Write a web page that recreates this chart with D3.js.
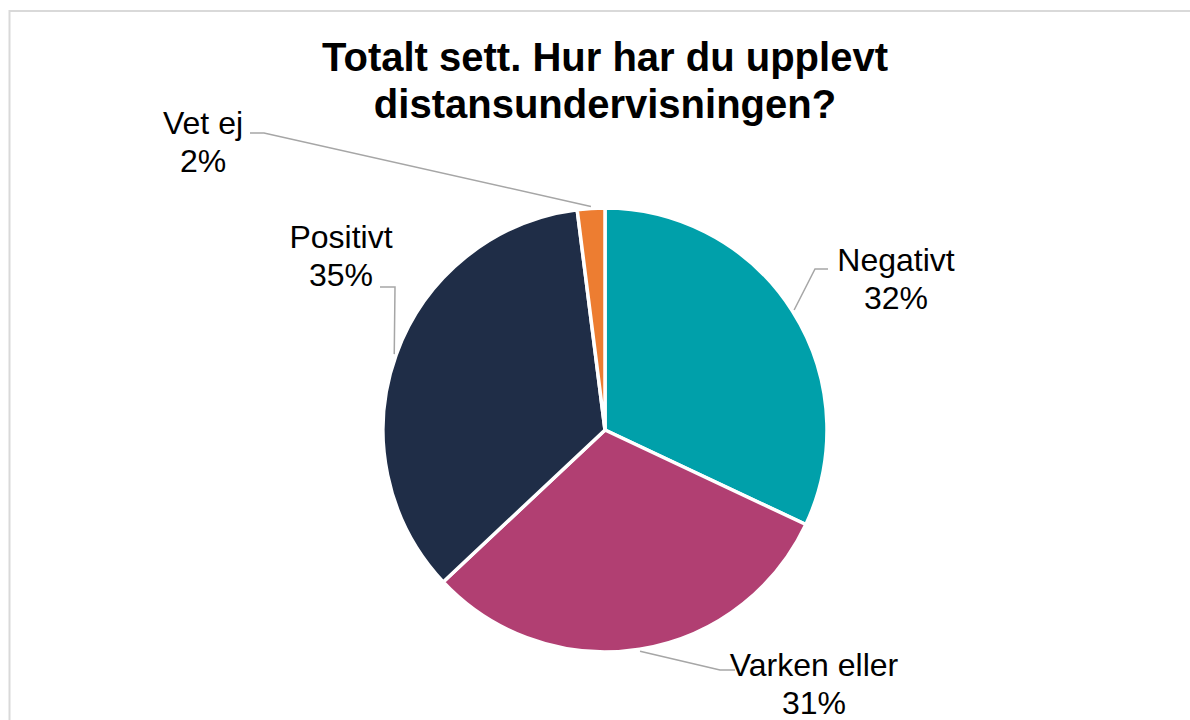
<!DOCTYPE html>
<meta charset="utf-8">
<style>
body { margin: 0; background: #fff; }
svg { display: block; }
.title { font: bold 40px "Liberation Sans", Arial, sans-serif; text-anchor: middle; fill: #000; }
.label { font: 32px "Liberation Sans", Arial, sans-serif; text-anchor: middle; fill: #000; }
.leader { fill: none; stroke: #a6a6a6; stroke-width: 1.5px; }
</style>
<svg width="1190" height="720"></svg>
<script src="https://d3js.org/d3.v7.min.js"></script>
<script>

// data, clockwise from 12 o'clock
var categories = ["Negativt", "Varken eller", "Positivt", "Vet ej"];
var values = [32, 31, 35, 2];
var colors = ["#00a0aa", "#b13f72", "#1f2d47", "#ed7d31"];
var titleLines = ["Totalt sett. Hur har du upplevt", "distansundervisningen?"];

// label layout: text centre, first baseline, knee of leader, end of leader
var labelPos = [
  { x: 896, y: 271, knee: [815, 269], end: [828, 269] },
  { x: 814, y: 676, knee: [720, 670], end: [735, 670] },
  { x: 341, y: 248, knee: [395, 287], end: [380, 287] },
  { x: 203, y: 134, knee: [264, 133], end: [250, 133] }
];

var svg = d3.select("svg"),
    cx = 605, cy = 430, radius = 222;

svg.append("rect")
    .attr("x", 9.5).attr("y", 11)
    .attr("width", 1300).attr("height", 900)
    .attr("fill", "none")
    .attr("stroke", "#d9d9d9")
    .attr("stroke-width", 2);

svg.selectAll(".title")
    .data(titleLines)
  .enter().append("text")
    .attr("class", "title")
    .attr("x", cx)
    .attr("y", function(d, i) { return 71 + i * 47; })
    .text(function(d) { return d; });

var pie = d3.pie().sort(null).value(function(d) { return d; });
var arcs = pie(values);

var arc = d3.arc().innerRadius(0).outerRadius(radius);

var g = svg.append("g").attr("transform", "translate(" + cx + "," + cy + ")");

g.selectAll("path")
    .data(arcs)
  .enter().append("path")
    .attr("d", arc)
    .attr("fill", function(d, i) { return colors[i]; })
    .attr("stroke", "#fff")
    .attr("stroke-width", 3.5)
    .attr("stroke-linejoin", "round");

// leader lines from slice edge to label
svg.selectAll(".leader")
    .data(arcs)
  .enter().append("polyline")
    .attr("class", "leader")
    .attr("points", function(d, i) {
      var a = (d.startAngle + d.endAngle) / 2,
          r = radius + 2,
          p = [cx + r * Math.sin(a), cy - r * Math.cos(a)],
          l = labelPos[i];
      return [p, l.knee, l.end].map(function(q) { return q.join(","); }).join(" ");
    });

var labels = svg.selectAll(".label")
    .data(arcs)
  .enter().append("text")
    .attr("class", "label")
    .attr("x", function(d, i) { return labelPos[i].x; })
    .attr("y", function(d, i) { return labelPos[i].y; });

labels.append("tspan")
    .attr("x", function(d, i) { return labelPos[i].x; })
    .text(function(d, i) { return categories[i]; });

labels.append("tspan")
    .attr("x", function(d, i) { return labelPos[i].x; })
    .attr("dy", 38)
    .text(function(d) { return d.value + "%"; });

</script>
